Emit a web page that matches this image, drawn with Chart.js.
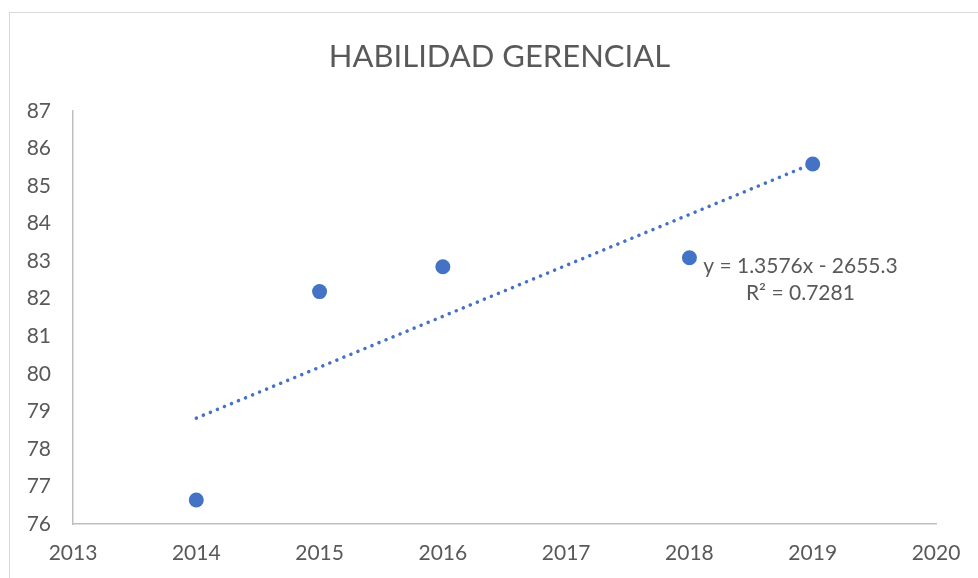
<!DOCTYPE html>
<html>
<head>
<meta charset="utf-8">
<script src="https://cdn.jsdelivr.net/npm/chart.js@4.4.0/dist/chart.umd.min.js"></script>
<style>
  html, body { margin: 0; padding: 0; background: #fff; }
  #wrap { position: relative; width: 978px; height: 578px; overflow: hidden; }
  #frame { position: absolute; left: 9px; top: 12px; width: 1200px; height: 800px; border: 1.5px solid #d9d9d9; box-sizing: border-box; }
  canvas { position: absolute; left: 0; top: 0; }
</style>
</head>
<body>
<div id="wrap">
  <div id="frame"></div>
  <canvas id="c" width="978" height="578"></canvas>
</div>
<script>
const chartTitle = "HABILIDAD GERENCIAL";
const years = [2014, 2015, 2016, 2018, 2019];
const values = [76.64, 82.19, 82.85, 83.09, 85.59];
const trendYears = [2014, 2019];
const trendValues = [78.82, 85.60];
const equationLines = ["y = 1.3576x - 2655.3", "R² = 0.7281"];
const xTicksRange = [2013, 2020];
const yTicksRange = [76, 87];

const blue = '#4472C4';
const textGrey = '#595959';
const axisGrey = '#BFBFBF';
const tickFont = { family: 'Lato, "Open Sans", sans-serif', size: 21 };

const points = years.map((y, i) => ({ x: y, y: values[i] }));
const trend = trendYears.map((y, i) => ({ x: y, y: trendValues[i] }));

const overlay = {
  id: 'overlay',
  afterDraw(chart) {
    const ctx = chart.ctx;
    const xs = chart.scales.x, ys = chart.scales.y;
    ctx.save();
    ctx.fillStyle = textGrey;
    ctx.textAlign = 'center';
    ctx.textBaseline = 'alphabetic';
    ctx.font = '400 31px Lato, "Open Sans", sans-serif';
    ctx.fillText(chartTitle, (chart.chartArea.left + chart.chartArea.right) / 2 - 5, 67);
    ctx.font = '21px Lato, "Open Sans", sans-serif';
    const cx = xs.getPixelForValue(2018) + 111;
    const cy = ys.getPixelForValue(values[3]) + 15;
    ctx.fillText(equationLines[0], cx, cy);
    ctx.fillText(equationLines[1], cx, cy + 27);
    ctx.restore();
  }
};

new Chart(document.getElementById('c'), {
  type: 'scatter',
  data: {
    datasets: [
      {
        label: 'trend',
        data: trend,
        showLine: true,
        borderColor: blue,
        borderWidth: 3.5,
        borderDash: [0.1, 7.5],
        borderCapStyle: 'round',
        pointRadius: 0,
        fill: false,
        order: 2
      },
      {
        label: 'HABILIDAD GERENCIAL',
        data: points,
        backgroundColor: blue,
        borderColor: blue,
        pointRadius: 7.5,
        pointHoverRadius: 7.5,
        borderWidth: 0,
        order: 1
      }
    ]
  },
  plugins: [overlay],
  options: {
    responsive: false,
    animation: false,
    devicePixelRatio: 1,
    layout: { padding: { left: 0, right: 42, top: 111, bottom: 0 } },
    plugins: {
      legend: { display: false },
      title: { display: false },
      tooltip: { enabled: false }
    },
    scales: {
      x: {
        type: 'linear',
        min: xTicksRange[0],
        max: xTicksRange[1],
        ticks: {
          stepSize: 1,
          color: textGrey,
          font: tickFont,
          padding: 17,
          callback: v => String(v)
        },
        grid: { display: false, drawTicks: false },
        border: { display: true, color: axisGrey, width: 1.5 },
        afterFit(s) { s.height = 54; }
      },
      y: {
        min: yTicksRange[0],
        max: yTicksRange[1],
        ticks: {
          stepSize: 1,
          color: textGrey,
          font: tickFont,
          padding: 22,
          callback: v => String(v)
        },
        grid: { display: false, drawTicks: false },
        border: { display: true, color: axisGrey, width: 1.5 },
        afterFit(s) { s.width = 73; }
      }
    }
  }
});
</script>
</body>
</html>
